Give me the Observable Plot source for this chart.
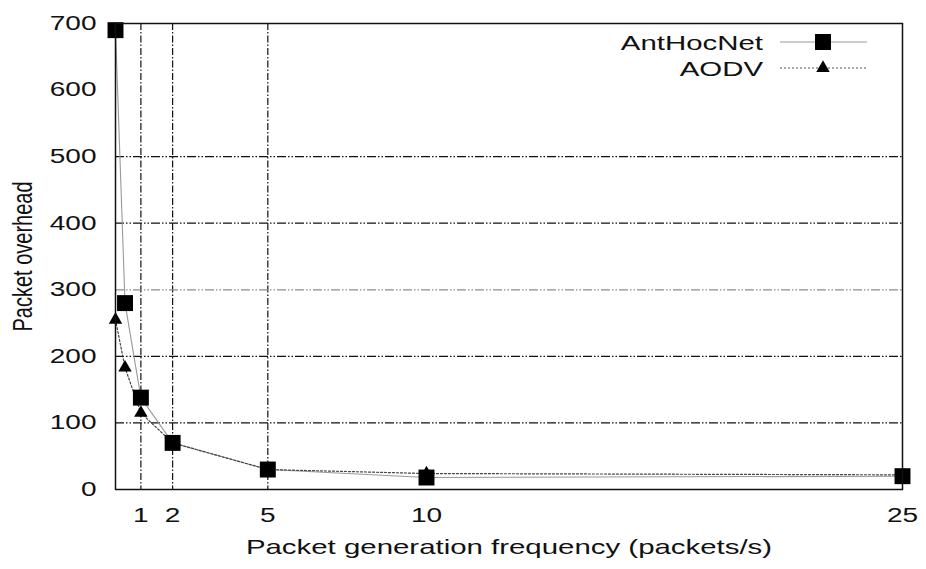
<!DOCTYPE html>
<html><head><meta charset="utf-8">
<script src="https://cdn.jsdelivr.net/npm/d3@7"></script>
<script src="https://cdn.jsdelivr.net/npm/@observablehq/plot@0.6"></script>
<style>
body{margin:0;background:#fff;}
#wrap{position:relative;width:926px;height:569px;font-family:"Liberation Sans",Arial,sans-serif;}
#legend{position:absolute;left:0;top:0;}
</style></head><body><div id="wrap"></div>
<script>
// Data
const freq = [0.2, 0.5, 1, 2, 5, 10, 25];
const antHocNet = [690, 280, 138, 70, 30, 18, 20];
const aodv = [255, 183, 115, 70, 30, 24, 22];
const xTicks = [1, 2, 5, 10, 25];
const yTicks = [0, 100, 200, 300, 400, 500, 600, 700];
const xGrid = [1, 2, 5];
const yGrid = [100, 200, 300, 400, 500];
const seriesNames = ["AntHocNet", "AODV"];

const ant = freq.map((f, i) => ({x: f, y: antHocNet[i]}));
const aod = freq.map((f, i) => ({x: f, y: aodv[i]}));

const FONT = "Liberation Sans, Arial, sans-serif";
const STRETCH = 1.4; // the reference picture is stretched horizontally
const chart = Plot.plot({
  width: 926, height: 569,
  marginLeft: 115, marginRight: 24, marginTop: 23, marginBottom: 80,
  style: {fontFamily: FONT, fontSize: "20px", color: "#111", background: "#fff"},
  x: {domain: [0.2, 25]},
  y: {domain: [0, 700]},
  marks: [
    Plot.ruleX(xGrid, {stroke: "#111", strokeWidth: 1.2, strokeDasharray: "7,2,1.5,2"}),
    Plot.ruleY(yGrid, {stroke: d => d === 300 ? "#8c8c8c" : "#111", strokeWidth: 1.2, strokeDasharray: "9,2,1.5,2,1.5,2"}),
    Plot.line(ant, {x: "x", y: "y", stroke: "#999", strokeWidth: 1.1}),
    Plot.line(aod, {x: "x", y: "y", stroke: "#444", strokeWidth: 1.2, strokeDasharray: "2,2"}),
    Plot.dot(aod, {x: "x", y: "y", symbol: "triangle", fill: "#000", stroke: "none", r: 5}),
    Plot.dot(ant, {x: "x", y: "y", symbol: "square", fill: "#000", stroke: "none", r: 9}),
    Plot.axisX(xTicks, {tickSize: 0, tickPadding: 18, fontSize: 20, label: null}),
    Plot.axisY(yTicks, {tickSize: 0, tickPadding: 19, fontSize: 20, label: null}),
    Plot.text(["Packet generation frequency (packets/s)"], {frameAnchor: "bottom", dy: 64, fontSize: 21, fill: "#111"}),
    Plot.text(["Packet overhead"], {frameAnchor: "left", dx: -92, rotate: -90, textAnchor: "middle", fontSize: 20, fill: "#111"}),
    Plot.frame({stroke: "#111", strokeWidth: 1.5})
  ]
});
document.getElementById("wrap").appendChild(chart);

// Legend (top-right, inside the frame)
const leg = d3.select("#wrap").append("svg").attr("id", "legend")
  .attr("width", 926).attr("height", 100);
const rows = [
  {name: seriesNames[0], dash: null, stroke: "#9a9a9a", sym: d3.symbolSquare, size: Math.PI * 81},
  {name: seriesNames[1], dash: "2,2", stroke: "#555", sym: d3.symbolTriangle, size: Math.PI * 25}
];
rows.forEach((r, i) => {
  const yy = 42 + i * 26;
  leg.append("text").attr("x", 763).attr("y", yy).attr("text-anchor", "end")
    .attr("dominant-baseline", "central").attr("font-family", FONT).attr("font-size", 21)
    .attr("fill", "#111").text(r.name);
  leg.append("line").attr("x1", 780).attr("x2", 867).attr("y1", yy).attr("y2", yy)
    .attr("stroke", r.stroke).attr("stroke-width", 1.2).attr("stroke-dasharray", r.dash);
  leg.append("path").attr("transform", `translate(823,${yy})`)
    .attr("d", d3.symbol(r.sym, r.size)()).attr("fill", "#000");
});

// Widen the glyphs horizontally like the reference
d3.selectAll("#wrap text").each(function () {
  const tr = this.getAttribute("transform") || "";
  if (tr.includes("rotate")) {
    this.setAttribute("transform", tr.replace("rotate", `scale(${STRETCH},1) rotate`));
  } else {
    const w = this.getComputedTextLength();
    if (w > 0) {
      this.setAttribute("textLength", w * STRETCH);
      this.setAttribute("lengthAdjust", "spacingAndGlyphs");
    }
  }
});
</script></body></html>
